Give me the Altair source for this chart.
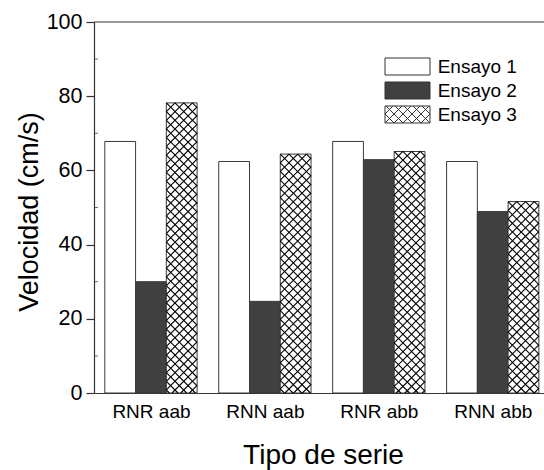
import json
import math

import altair as alt
import pandas as pd

# ---- data -------------------------------------------------------------
GROUPS = ["RNR aab", "RNN aab", "RNR abb", "RNN abb"]
SERIES = ["Ensayo 1", "Ensayo 2", "Ensayo 3"]
ENSAYO_1 = [67.8, 62.4, 67.8, 62.4]
ENSAYO_2 = [30.0, 24.7, 62.9, 48.9]
ENSAYO_3 = [78.2, 64.4, 65.1, 51.6]
Y_TICKS = [0, 20, 40, 60, 80, 100]
Y_MINOR = [10, 30, 50, 70, 90]

FILLS = ["#ffffff", "#404040", "#ffffff"]
FONT = "Liberation Sans"

# ---- geometry of the plot area ----------------------------------------
W, H = 450, 371
X_DOMAIN = [-0.5, 3.45]
Y_DOMAIN = [0, 100]
BAR_W = 0.27          # width of one bar, in group units
HATCH_STEP = 8.7      # horizontal period of the cross-hatch, px

PX_X = W / (X_DOMAIN[1] - X_DOMAIN[0])
PX_Y = H / (Y_DOMAIN[1] - Y_DOMAIN[0])

rows = []
for s_i, (name, vals) in enumerate(zip(SERIES, [ENSAYO_1, ENSAYO_2, ENSAYO_3])):
    for g_i, (grp, v) in enumerate(zip(GROUPS, vals)):
        x0 = g_i + (s_i - 1.5) * BAR_W
        rows.append(dict(grupo=grp, serie=name, valor=v, x0=x0, x1=x0 + BAR_W))
bars = pd.DataFrame(rows)


def diagonals(left, right, bottom, top, step, ax, ay):
    """Cross-hatch segments (slopes +1 and -1) clipped to a rectangle,
    with one crossing anchored at (ax, ay)."""
    segs = []
    # v = u + c
    c0 = ay - ax
    k_lo = math.ceil((bottom - right - c0) / step)
    k_hi = math.floor((top - left - c0) / step)
    for k in range(k_lo, k_hi + 1):
        c = c0 + k * step
        u1, u2 = max(left, bottom - c), min(right, top - c)
        if u2 - u1 > 1e-6:
            segs.append((u1, u1 + c, u2, u2 + c))
    # v = c - u
    c0 = ay + ax
    k_lo = math.ceil((left + bottom - c0) / step)
    k_hi = math.floor((right + top - c0) / step)
    for k in range(k_lo, k_hi + 1):
        c = c0 + k * step
        u1, u2 = max(left, c - top), min(right, c - bottom)
        if u2 - u1 > 1e-6:
            segs.append((u1, c - u1, u2, c - u2))
    return segs


# hatch lines for the "Ensayo 3" bars, worked out in pixels then mapped back
hatch_rows = []
for _, b in bars[bars["serie"] == "Ensayo 3"].iterrows():
    left = (b["x0"] - X_DOMAIN[0]) * PX_X
    right = (b["x1"] - X_DOMAIN[0]) * PX_X
    top = b["valor"] * PX_Y
    for u1, v1, u2, v2 in diagonals(left, right, 0.0, top, HATCH_STEP, left, top):
        hatch_rows.append(dict(
            hx1=X_DOMAIN[0] + u1 / PX_X, hy1=v1 / PX_Y,
            hx2=X_DOMAIN[0] + u2 / PX_X, hy2=v2 / PX_Y,
        ))
hatch = pd.DataFrame(hatch_rows)

# legend swatches: wide rectangles, the third one cross-hatched
SYM_PX = 17.0                       # swatch height in px
HALF_W = 22.5 / (SYM_PX / 2)        # half width in symbol units
rect_path = f"M{-HALF_W:.3f},-1H{HALF_W:.3f}V1H{-HALF_W:.3f}Z"
hatch_path = rect_path
for u1, v1, u2, v2 in diagonals(-HALF_W, HALF_W, -1.0, 1.0, 9.0 / (SYM_PX / 2), -HALF_W, 1.0):
    hatch_path += f"M{u1:.3f},{v1:.3f}L{u2:.3f},{v2:.3f}"
symbol_expr = f"datum.value === '{SERIES[2]}' ? '{hatch_path}' : '{rect_path}'"

x_scale = alt.Scale(domain=X_DOMAIN, nice=False, zero=False)
y_scale = alt.Scale(domain=Y_DOMAIN, nice=False)

label_expr = f"{json.dumps(GROUPS)}[datum.value]"

bar_layer = alt.Chart(bars).mark_bar(stroke="#3a3a3a", strokeWidth=1).encode(
    x=alt.X("x0:Q", scale=x_scale,
            axis=alt.Axis(values=list(range(len(GROUPS))), labelExpr=label_expr,
                          ticks=False, grid=False, labelPadding=9,
                          labelFontSize=19,
                          labelBaseline="top", labelFlush=False, labelOverlap=False,
                          title="Tipo de serie", titleFontSize=28,
                          titleX=229, titleY=70,
                          titleAlign="center", titleBaseline="alphabetic")),
    x2="x1:Q",
    y=alt.Y("valor:Q", scale=y_scale,
            axis=alt.Axis(values=Y_TICKS, tickSize=8, labelPadding=4, grid=False,
                          labelFontSize=21.5,
                          title="Velocidad (cm/s)", titleFontSize=27,
                          titleAngle=-90,
                          titleX=-57, titleY=189.5, titleAlign="center",
                          titleBaseline="alphabetic")),
    y2=alt.datum(0),
    fill=alt.Fill("serie:N",
                  scale=alt.Scale(domain=SERIES, range=FILLS),
                  legend=alt.Legend(title=None, orient="none",
                                    legendX=304, legendY=35,
                                    symbolType={"expr": symbol_expr},
                                    symbolSize=SYM_PX ** 2,
                                    symbolStrokeColor="#333333",
                                    symbolStrokeWidth=1,
                                    labelOffset=20.7, rowPadding=3,
                                    labelFontSize=19, labelFont=FONT,
                                    labelColor="#000000", padding=0)),
)

hatch_layer = alt.Chart(hatch).mark_rule(color="#000000", strokeWidth=1.1).encode(
    x=alt.X("hx1:Q", scale=x_scale),
    x2="hx2:Q",
    y=alt.Y("hy1:Q", scale=y_scale),
    y2="hy2:Q",
)

minor_ticks = alt.Chart(pd.DataFrame({"v": Y_MINOR})).mark_tick(
    orient="horizontal", size=4, thickness=1, color="#333333"
).encode(
    y=alt.Y("v:Q", scale=y_scale),
    x=alt.value(2),
)

top_frame = alt.Chart(pd.DataFrame({"v": [0]})).mark_rule(
    color="#333333", strokeWidth=1.2
).encode(x=alt.value(0), x2=alt.value(W), y=alt.value(0))

chart = (
    alt.layer(bar_layer, hatch_layer, minor_ticks, top_frame)
    .properties(
        width=W, height=H,
        autosize=alt.AutoSizeParams(type="none"),
        padding={"left": 94, "top": 22, "right": 0, "bottom": 77},
    )
    .configure_view(stroke=None)
    .configure_axis(
        labelFont=FONT, labelColor="#000000",
        titleFont=FONT, titleFontWeight="normal",
        titleColor="#000000",
        domainColor="#333333", domainWidth=1.2,
        tickColor="#333333", tickWidth=1.2,
    )
)

chart.save("out.html", embed_options={"renderer": "svg", "actions": False})
